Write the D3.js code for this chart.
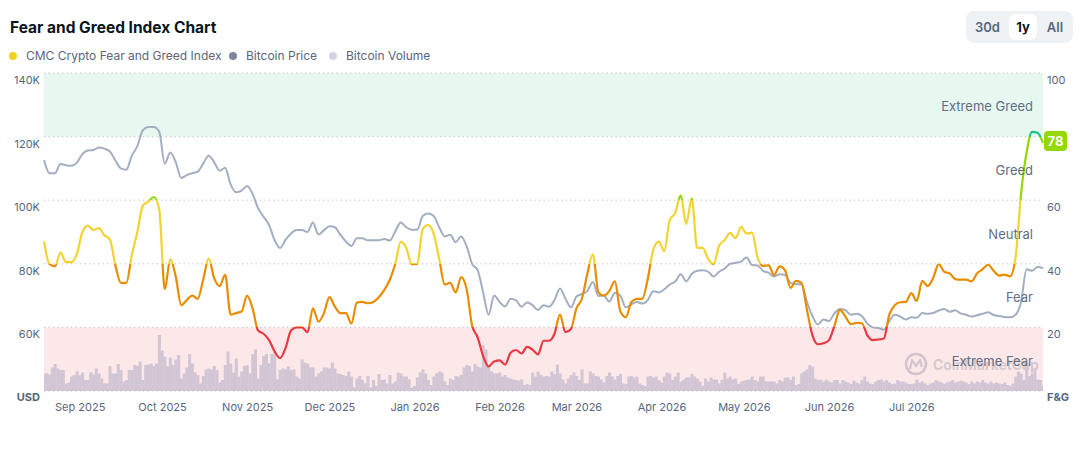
<!DOCTYPE html>
<html>
<head>
<meta charset="utf-8">
<script src="https://cdn.jsdelivr.net/npm/d3@7"></script>
<style>
body { margin: 0; background: #fff; }
svg { font-family: Inter, "Noto Sans", sans-serif; }
</style>
</head>
<body>
<div id="chart"></div>
<script>
// Data: one year, line series every 2 days, volume daily
var startDate = new Date(2025, 7, 19);

// CMC Crypto Fear and Greed Index (0-100)
var fgIndex = [
  47,39.9,39.2,43.5,40.5,40.5,43.2,50,52,50.6,
  51.2,49,47.7,39.5,34,34,42.8,50,58.3,59.5,
  61,57,32,41.5,36,27,28.6,30,29,35,
  41.7,35.5,33,36.5,24,24.5,25,30,26,19,
  18,16,12.5,10.3,13.5,19,20,
  20,18.5,26,21.8,24.5,29.5,26.5,24.5,24.5,21.2,
  27.8,28,27.6,28,29.5,31.8,35,40,47,45,
  39.9,40,51,52.2,49.4,41.5,33.5,34,31,35.8,
  32,20.5,16.9,11,7.7,9.3,9.6,8.3,12,12.9,
  11.8,13.9,13,11.5,15.8,15.8,
  18,24,18.5,19.5,26,29,37,43,31,30,
  31.5,34.5,25,23.2,28,29,29,35.3,44.5,47,
  44,53.8,56,61.5,52.5,60.5,45,45,41.5,40,
  45.7,47.5,49.7,48.1,51.6,49.5,49.8,42,39.3,39.5,
  36.5,39.2,38,32.4,34.6,
  34,25.5,17.5,14.7,15,16,20.5,25.5,23.4,21,
  21.4,21.3,17.5,16,16.2,16.5,24,27,27.9,28,
  30.8,28.3,34.6,33,35.6,39.9,37.5,37,35.2,35,
  35,34.5,37,38.3,39.7,37.8,36.3,36.6,36,42,
  62,75,81.5,81.2,78
];

// Bitcoin price, thousands USD
var btcPrice = [
  112.6,108.5,108.5,111.4,111.0,110.8,111.8,114.5,115.6,115.8,
  116.6,116.2,115.3,112.5,110.0,109.6,114.0,117.0,122.0,123.0,
  123.0,121.5,111.5,115.0,112.0,107.0,107.9,108.5,109.0,111.5,
  114.0,112.0,109.3,110.2,105.0,102.5,103.0,104.5,102.0,97.5,
  94.8,92.2,87.5,85.0,87.5,89.5,90.6,
  90.6,90.0,93.0,89.2,90.6,91.8,91.5,89.1,87.0,85.6,
  88.0,88.0,87.4,87.4,87.4,87.8,87.3,90.2,93.0,91.5,
  90.7,90.8,95.0,95.8,95.0,91.5,88.6,89.1,86.8,88.6,
  85.5,80.0,78.0,71.0,64.0,70.0,68.0,66.6,69.0,68.5,
  66.5,67.8,67.0,65.5,67.0,66.5,
  68.6,72.2,69.0,66.3,69.7,70.5,71.5,74.3,69.9,70.0,
  68.1,70.9,70.0,66.3,67.2,68.0,67.5,68.6,71.4,71.0,
  72.0,73.5,74.4,76.7,74.5,76.8,77.8,78.0,77.5,76.0,
  77.5,78.5,80.0,80.3,80.7,82.0,79.6,79.5,77.8,77.2,
  76.0,76.7,76.5,74.0,73.6,
  73.6,68.0,63.6,60.9,62.5,62.0,64.4,65.8,65.4,64.0,
  64.3,63.6,61.2,60.0,59.8,59.3,62.0,64.0,63.4,62.5,
  63.2,63.0,64.5,64.3,64.5,65.3,65.8,64.9,65.4,64.4,
  64.0,63.4,63.8,64.3,64.8,63.9,63.6,63.3,63.2,64.0,
  68.0,78.3,77.8,79.0,78.6
];

// Bitcoin volume, billions USD
var btcVolume = [
  35,35,33,47,54,45,42,42,15,17, 29,32,40,32,37,22,22,37,33,45,
  35,25,15,15,50,35,35,54,42,19, 22,42,42,52,50,59,22,52,53,55,
  50,55,112,81,69,50,67,52,63,72, 25,35,47,74,55,37,32,15,30,43,
  45,43,50,42,17,22,52,79,55,37, 65,29,39,50,52,35,74,83,25,52,
  70,74,55,74,79,23,42,45,43,49, 42,43,29,25,63,57,55,47,47,29,
  35,39,47,47,45,57,45,35,34,32, 30,39,29,7,25,30,22,15,30,7,
  22,10,34,22,23,15,32,15,19,37, 35,29,29,23,7,10,27,37,43,35,
  22,12,29,35,39,37,19,12,25,22, 30,29,32,47,52,50,39,54,49,47,
  92,83,49,39,35,35,37,29,32,27, 25,23,22,21,23,12,14,12,37,29,
  39,32,29,30,29,39,34,53,35,23, 15,25,32,37,30,22,43,15,15,39,
  35,30,29,23,17,30,37,29,23,30, 34,15,14,29,30,27,29,15,12,10,
  29,30,27,29,22,17,29,37,35,22, 29,37,19,23,27,27,34,29,25,19,
  10,25,19,27,23,23,15,22,37,25, 29,23,25,14,19,21,22,23,29,22,
  19,29,29,19,19,19,19,15,22,19, 27,27,22,29,12,14,35,39,43,52,
  49,25,22,23,19,23,19,17,22,22, 15,22,19,17,14,21,17,15,22,29,
  19,15,14,19,22,23,19,22,17,14, 15,22,19,19,17,14,14,15,23,17,
  19,15,12,15,17,22,19,17,14,17, 19,22,17,19,21,19,17,14,19,15,
  19,17,22,17,15,19,15,17,15,14, 17,12,10,15,29,39,35,22,50,30,
  35,42,23,22,12
];

var priceTicks = [60, 80, 100, 120, 140];
var fgTicks = [20, 40, 60, 80, 100];
var gridLevels = [0, 20, 40, 60, 80, 100];
var monthTicks = ["2025-09-01","2025-10-01","2025-11-01","2025-12-01","2026-01-01","2026-02-01",
  "2026-03-01","2026-04-01","2026-05-01","2026-06-01","2026-07-01"];
var zoneNames = ["Extreme Fear", "Fear", "Neutral", "Greed", "Extreme Greed"];
var zoneColors = ["#ea3943", "#ea8c00", "#f3d42f", "#93d900", "#16c784"];
var timeRanges = ["30d", "1y", "All"];

// Plot box
var margin = {top: 73, right: 1043, bottom: 391, left: 44},
width = 1081,
height = 450;

var svg = d3.select("#chart").append("svg")
  .attr("width", width)
  .attr("height", height);

var lineDates = fgIndex.map(function(d, i) { return d3.timeDay.offset(startDate, i * 2); });
var volDates = btcVolume.map(function(d, i) { return d3.timeDay.offset(startDate, i); });

var x = d3.scaleTime()
  .domain([startDate, d3.timeDay.offset(startDate, 364)])
  .range([margin.left, margin.right]);
var yPrice = d3.scaleLinear().domain([40, 140]).range([margin.bottom, margin.top]);
var yFG = d3.scaleLinear().domain([0, 100]).range([margin.bottom, margin.top]);
var yVol = d3.scaleLinear().domain([0, 200]).range([margin.bottom, margin.bottom - 100]);

// Title + legend
svg.append("text")
  .attr("x", 10).attr("y", 33)
  .attr("font-size", 15.5).attr("font-weight", 700)
  .attr("fill", "#0d1421")
  .text("Fear and Greed Index Chart");

var legendItems = [
  {name: "CMC Crypto Fear and Greed Index", color: "#f5d020", x: 13},
  {name: "Bitcoin Price", color: "#7e889a", x: 233},
  {name: "Bitcoin Volume", color: "#cfd5e2", x: 333}
];
var legend = svg.selectAll(".legend").data(legendItems).enter()
  .append("g")
  .attr("transform", function(d) { return "translate(" + d.x + ",56)"; });
legend.append("circle").attr("r", 4).attr("fill", function(d) { return d.color; });
legend.append("text")
  .attr("x", 13).attr("dy", "0.35em")
  .attr("font-size", 12).attr("fill", "#58667e")
  .text(function(d) { return d.name; });

// range buttons
svg.append("rect").attr("x", 966).attr("y", 11).attr("width", 107).attr("height", 32)
  .attr("rx", 8).attr("fill", "#eff2f5");
svg.append("rect").attr("x", 1009).attr("y", 14).attr("width", 28).attr("height", 26)
  .attr("rx", 6).attr("fill", "#fff");
var btnX = [987.5, 1023, 1055];
svg.selectAll(".btn").data(timeRanges).enter().append("text")
  .attr("x", function(d, i) { return btnX[i]; })
  .attr("y", 27).attr("dy", "0.35em")
  .attr("text-anchor", "middle")
  .attr("font-size", 13).attr("font-weight", function(d) { return d === "1y" ? 700 : 600; })
  .attr("fill", function(d) { return d === "1y" ? "#0d1421" : "#58667e"; })
  .text(function(d) { return d; });

// zone backgrounds
svg.append("rect")
  .attr("x", margin.left).attr("y", yFG(100))
  .attr("width", margin.right - margin.left).attr("height", yFG(80) - yFG(100))
  .attr("fill", "#e7f8f1");
svg.append("rect")
  .attr("x", margin.left).attr("y", yFG(20))
  .attr("width", margin.right - margin.left).attr("height", yFG(0) - yFG(20))
  .attr("fill", "#fde8e9");

// watermark
var wm = svg.append("g").attr("opacity", 0.8);
wm.append("circle").attr("cx", 916).attr("cy", 364).attr("r", 10)
  .attr("fill", "none").attr("stroke", "#c7bcc6").attr("stroke-width", 2.5);
wm.append("path").attr("d", "M910,369 L912,360 L916,366 L920,360 L922,367")
  .attr("fill", "none").attr("stroke", "#c7bcc6").attr("stroke-width", 2.2)
  .attr("stroke-linejoin", "round");
wm.append("text").attr("x", 933).attr("y", 370)
  .attr("font-size", 14).attr("font-weight", 600).attr("fill", "#c9bfc8")
  .text("CoinMarketCap");

// volume bars
var bw = x(volDates[1]) - x(volDates[0]);
svg.append("clipPath").attr("id", "plotclip")
  .append("rect").attr("x", margin.left).attr("y", margin.top)
  .attr("width", margin.right - margin.left).attr("height", margin.bottom - margin.top);
svg.append("g")
  .attr("clip-path", "url(#plotclip)")
  .selectAll("rect")
  .data(btcVolume)
  .enter().append("rect")
  .attr("x", function(d, i) { return x(volDates[i]) - bw / 2; })
  .attr("y", function(d) { return yVol(d); })
  .attr("width", bw + 0.3)
  .attr("height", function(d) { return margin.bottom - yVol(d); })
  .attr("fill", "#d2c6d5");

// dotted grid
svg.append("g").selectAll("line")
  .data(gridLevels)
  .enter().append("line")
  .attr("x1", margin.left).attr("x2", margin.right)
  .attr("y1", function(d) { return yFG(d); })
  .attr("y2", function(d) { return yFG(d); })
  .attr("stroke", "#b8bec8")
  .attr("stroke-width", 1)
  .attr("stroke-dasharray", "1.2,3.3");

// axes
var xAxis = svg.append("g")
  .attr("transform", "translate(0," + margin.bottom + ")")
  .call(d3.axisBottom(x)
    .tickValues(monthTicks.map(function(s) { return d3.timeParse("%Y-%m-%d")(s); }))
    .tickFormat(d3.timeFormat("%b %Y"))
    .tickSize(0).tickPadding(12));
var leftAxis = svg.append("g")
  .attr("transform", "translate(" + margin.left + ",0)")
  .call(d3.axisLeft(yPrice).tickValues(priceTicks)
    .tickFormat(function(d) { return d + "K"; })
    .tickSize(0).tickPadding(4));
var rightAxis = svg.append("g")
  .attr("transform", "translate(" + margin.right + ",0)")
  .call(d3.axisRight(yFG).tickValues(fgTicks).tickSize(0).tickPadding(4));
[xAxis, leftAxis, rightAxis].forEach(function(a) {
  a.select(".domain").remove();
  a.selectAll("text")
    .attr("font-family", "Inter, 'Noto Sans', sans-serif")
    .attr("font-size", 11).attr("fill", "#58667e");
});
leftAxis.selectAll("text").attr("dy", "0.95em");
rightAxis.selectAll("text").attr("dy", "0.95em");

svg.append("text").attr("x", 40).attr("y", 401)
  .attr("text-anchor", "end").attr("font-size", 11).attr("font-weight", 700)
  .attr("fill", "#58667e").text("USD");
svg.append("text").attr("x", 1047).attr("y", 401)
  .attr("font-size", 11).attr("font-weight", 700)
  .attr("fill", "#58667e").text("F&G");

// price line
svg.append("path")
  .datum(btcPrice)
  .attr("fill", "none")
  .attr("stroke", "#a4aec1")
  .attr("stroke-width", 2)
  .attr("d", d3.line()
    .x(function(d, i) { return x(lineDates[i]); })
    .y(function(d) { return yPrice(d); })
    .curve(d3.curveMonotoneX));

// fear & greed line, coloured by zone
var grad = svg.append("defs").append("linearGradient")
  .attr("id", "fggrad")
  .attr("gradientUnits", "userSpaceOnUse")
  .attr("x1", 0).attr("x2", 0)
  .attr("y1", yFG(0)).attr("y2", yFG(100));
zoneColors.forEach(function(c, i) {
  grad.append("stop").attr("offset", i * 0.2).attr("stop-color", c);
  grad.append("stop").attr("offset", (i + 1) * 0.2).attr("stop-color", c);
});
svg.append("path")
  .datum(fgIndex)
  .attr("fill", "none")
  .attr("stroke", "url(#fggrad)")
  .attr("stroke-width", 2.2)
  .attr("d", d3.line()
    .x(function(d, i) { return x(lineDates[i]); })
    .y(function(d) { return yFG(d); })
    .curve(d3.curveMonotoneX));

// zone labels
svg.selectAll(".zone").data(zoneNames).enter().append("text")
  .attr("x", 1033)
  .attr("y", function(d, i) { return yFG(i * 20 + 10) + 2; })
  .attr("dy", "0.35em")
  .attr("text-anchor", "end")
  .attr("font-size", 13).attr("fill", "#616e85")
  .text(function(d) { return d; });

// current value badge
var last = fgIndex[fgIndex.length - 1];
svg.append("rect")
  .attr("x", 1044).attr("y", yFG(last) - 12)
  .attr("width", 23).attr("height", 20).attr("rx", 4)
  .attr("fill", "#93d900");
svg.append("text")
  .attr("x", 1055.5).attr("y", yFG(last) - 2).attr("dy", "0.35em")
  .attr("text-anchor", "middle")
  .attr("font-size", 13).attr("font-weight", 700).attr("fill", "#fff")
  .text(last);
</script>
</body>
</html>
